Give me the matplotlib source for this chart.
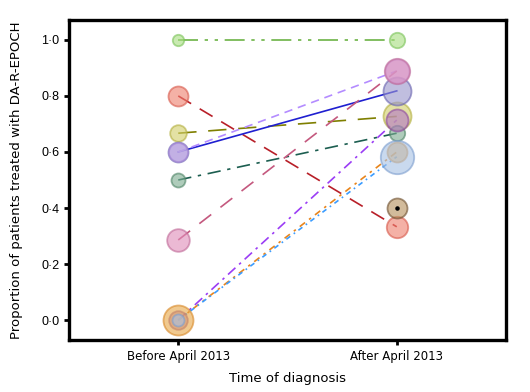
import matplotlib
matplotlib.use("Agg")
import matplotlib.pyplot as plt
import numpy as np

# ---- data ----
periods = ["Before April 2013", "After April 2013"]
series = ["green", "red", "olive", "blue", "lavender", "teal", "pink", "violet", "orange", "sky", "brown"]
before = [1.0, 0.8, 0.667, 0.6, 0.6, 0.5, 0.286, 0.0, 0.0, 0.0, np.nan]
after = [1.0, 0.333, 0.727, 0.818, 0.889, 0.667, 0.889, 0.714, 0.6, 0.583, 0.4]
# bubble radii (px)
r_before = [5.7, 10.0, 8.3, 10.0, 9.5, 7.0, 11.3, 9.3, 15.0, 6.0, 0]
r_after = [7.7, 10.7, 14.0, 14.0, 12.0, 7.7, 12.7, 11.0, 10.0, 16.7, 10.0]

line_colors = ["#6cb346", "#b81f28", "#7f7f00", "#1f1fd0", "#b48cff", "#1c5e50",
               "#c4587e", "#9b3df5", "#e8851c", "#3a9cff", "#6b4a2a"]
face_colors = ["#a8de82", "#ee8270", "#d2cf6c", "#9a96cc", "#c4a8e8", "#7eae92",
               "#e08fba", "#b57bc4", "#e7a94a", "#a9c2e4", "#b7915e"]
edge_colors = ["#7cc45a", "#d85a4c", "#b4b040", "#6a64b0", "#a888d8", "#4e8466",
               "#c06a98", "#8e4aa0", "#d98a2a", "#7e9fcf", "#6e5030"]
styles = [(0, (12, 4, 2, 4, 2, 4)), (0, (9, 6)), (0, (11, 7)), "-", (0, (5, 3.5)),
          (0, (8, 4, 2, 4)), (0, (9, 7)), (0, (6, 3, 1.5, 3)), (0, (4, 3, 1.5, 3)),
          (0, (3, 2.5, 1, 2.5)), "-"]

fig = plt.figure(figsize=(5.30, 3.92), dpi=100)
ax = fig.add_axes([69 / 530, 1 - 340 / 392, (506 - 69) / 530, (340 - 20) / 392])

x = np.arange(len(periods))
px2pt = 72 / 100.0
for i in range(len(series)):
    ax.plot(x, [before[i], after[i]], color=line_colors[i], linestyle=styles[i],
            lw=1.2, zorder=2)

for i in range(len(series)):
    for xi, val, r in ((0, before[i], r_before[i]), (1, after[i], r_after[i])):
        if np.isnan(val) or r == 0:
            continue
        s = (2 * r * px2pt) ** 2
        ax.scatter([xi], [val], s=s, facecolor=face_colors[i], edgecolor=edge_colors[i],
                   linewidth=1.3, alpha=0.62, zorder=3)

# brown series has a single dot at its centre
ax.scatter([1], [after[10]], s=5, color="black", zorder=5)

ax.set_xlim(-0.5, 1.5)
ax.set_ylim(-0.071, 1.071)
ax.set_xticks(x)
ax.set_xticklabels(periods, fontsize=8.5, family="DejaVu Sans")
yt = [0.0, 0.2, 0.4, 0.6, 0.8, 1.0]
ax.set_yticks(yt)
ax.set_yticklabels([f"{v:.1f}".replace(".", "\u00b7") for v in yt], fontsize=9,
                   family="Liberation Sans")
for sp in ax.spines.values():
    sp.set_linewidth(2.4)
ax.tick_params(axis="both", width=2, length=3.5, direction="out")
ax.set_xlabel("Time of diagnosis", fontsize=9.5, family="DejaVu Sans", labelpad=7)
ax.set_ylabel("Proportion of patients treated with DA-R-EPOCH", fontsize=9.5,
              family="DejaVu Sans", labelpad=13)

fig.savefig("out.png", dpi=100)
